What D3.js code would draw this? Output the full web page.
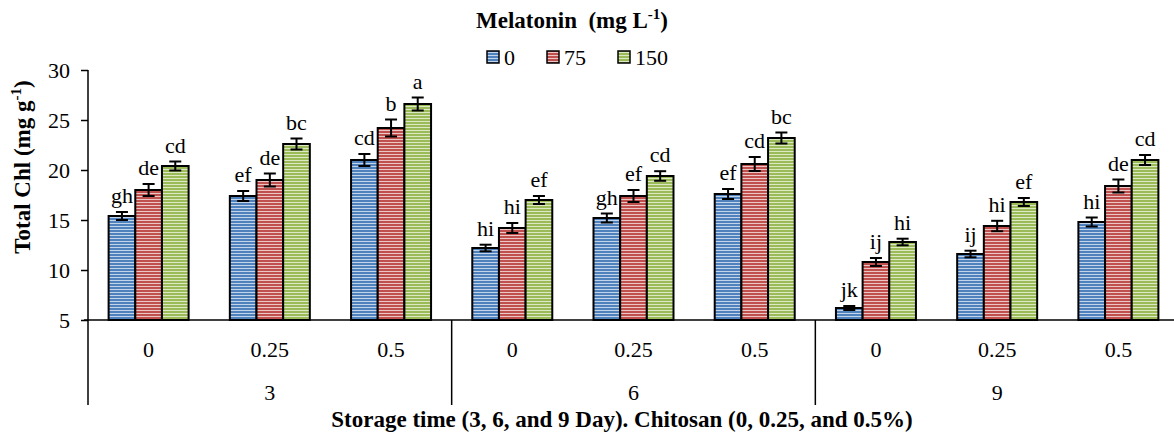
<!DOCTYPE html>
<html>
<head>
<meta charset="utf-8">
<script src="https://cdn.jsdelivr.net/npm/d3@7"></script>
<style>
  body { margin: 0; background: #fff; }
  svg text { font-family: "Liberation Serif", "DejaVu Serif", serif; fill: #000; }
</style>
</head>
<body>
<svg id="chart" width="1174" height="439"></svg>
<script>
// datos
const dias = ["3", "6", "9"];
const quitosano = ["0", "0.25", "0.5"];
const series = ["0", "75", "150"];

const valores0   = [15.4, 17.4, 21.0, 12.2, 15.2, 17.6, 6.2, 11.6, 14.8];
const valores75  = [18.0, 19.0, 24.2, 14.2, 17.4, 20.6, 10.8, 14.4, 18.4];
const valores150 = [20.4, 22.6, 26.6, 17.0, 19.4, 23.2, 12.8, 16.8, 21.0];

const error0   = [0.4, 0.5, 0.6, 0.33, 0.45, 0.5, 0.2, 0.33, 0.45];
const error75  = [0.6, 0.65, 0.85, 0.5, 0.6, 0.7, 0.4, 0.52, 0.65];
const error150 = [0.45, 0.55, 0.65, 0.4, 0.48, 0.55, 0.33, 0.4, 0.5];

const letras0   = ["gh", "ef", "cd", "hi", "gh", "ef", "jk", "ij", "hi"];
const letras75  = ["de", "de", "b", "hi", "ef", "cd", "ij", "hi", "de"];
const letras150 = ["cd", "bc", "a", "ef", "cd", "bc", "hi", "ef", "cd"];

const yTicks = [5, 10, 15, 20, 25, 30];

const colores = [
  { base: "#4f81bd", claro: "#c2d4ea" },
  { base: "#c0504d", claro: "#ecc6c5" },
  { base: "#9bbb59", claro: "#dde9c5" }
];

const valores = [valores0, valores75, valores150];
const errores = [error0, error75, error150];
const letras = [letras0, letras75, letras150];

const grupos = [];
dias.forEach(d => quitosano.forEach(q => grupos.push(d + "|" + q)));

const svg = d3.select("#chart");

// patrones de rayas horizontales
const defs = svg.append("defs");
colores.forEach((c, i) => {
  const p = defs.append("pattern")
    .attr("id", "rayas" + i)
    .attr("patternUnits", "userSpaceOnUse")
    .attr("width", 6).attr("height", 3);
  p.append("rect").attr("width", 6).attr("height", 3).attr("fill", c.base);
  p.append("rect").attr("y", 1).attr("width", 6).attr("height", 1).attr("fill", c.claro);
});

const izq = 88, der = 1179, arriba = 70, base = 320;

const x = d3.scaleBand().domain(grupos).range([izq, der]).padding(0);
const bw = x.bandwidth();
const xs = d3.scaleBand().domain(series).range([(bw - 80) / 2, (bw + 80) / 2]).padding(0);
const y = d3.scaleLinear().domain([5, 30]).range([base, arriba]);

// eje y
const ejeY = svg.append("g")
  .attr("transform", `translate(${izq},0)`)
  .call(d3.axisLeft(y).tickValues(yTicks).tickSize(7).tickPadding(11));
ejeY.select(".domain").remove();
ejeY.selectAll(".tick line").attr("stroke", "#000").attr("stroke-width", 1.5);
ejeY.selectAll(".tick text").attr("font-size", 22);

svg.append("line")
  .attr("x1", izq).attr("x2", izq).attr("y1", arriba).attr("y2", 405)
  .attr("stroke", "#000").attr("stroke-width", 1.5);

svg.append("line")
  .attr("x1", izq - 4).attr("x2", 1174).attr("y1", base).attr("y2", base)
  .attr("stroke", "#000").attr("stroke-width", 1.5);

// barras
grupos.forEach((g, gi) => {
  const gx = x(g);
  series.forEach((s, si) => {
    const v = valores[si][gi];
    const e = errores[si][gi];
    const bx = gx + xs(s);
    svg.append("rect")
      .attr("x", bx).attr("y", y(v))
      .attr("width", xs.bandwidth()).attr("height", base - y(v))
      .attr("fill", `url(#rayas${si})`)
      .attr("stroke", "#000").attr("stroke-width", 2);

    const cx = bx + xs.bandwidth() / 2;
    svg.append("line")
      .attr("x1", cx).attr("x2", cx).attr("y1", y(v + e)).attr("y2", y(v - e))
      .attr("stroke", "#000").attr("stroke-width", 2);
    [v + e, v - e].forEach(t => {
      svg.append("line")
        .attr("x1", cx - 6).attr("x2", cx + 6).attr("y1", y(t)).attr("y2", y(t))
        .attr("stroke", "#000").attr("stroke-width", 2);
    });
    svg.append("text")
      .attr("x", cx).attr("y", y(v + e) - 9)
      .attr("text-anchor", "middle")
      .attr("font-size", 22)
      .text(letras[si][gi]);
  });

  const q = g.split("|")[1];
  svg.append("text")
    .attr("x", gx + bw / 2).attr("y", 357)
    .attr("text-anchor", "middle").attr("font-size", 22)
    .text(q);
});

// etiquetas de dias y separadores
dias.forEach((d, di) => {
  const x0 = x(d + "|" + quitosano[0]);
  const x1 = x(d + "|" + quitosano[2]) + bw;
  svg.append("text")
    .attr("x", (x0 + x1) / 2).attr("y", 400)
    .attr("text-anchor", "middle").attr("font-size", 22)
    .text(d);
  if (di > 0) {
    svg.append("line")
      .attr("x1", x0).attr("x2", x0).attr("y1", base).attr("y2", 405)
      .attr("stroke", "#000").attr("stroke-width", 1.5);
  }
});

// titulos
svg.append("text")
  .attr("x", 622).attr("y", 427)
  .attr("text-anchor", "middle").attr("font-size", 23).attr("font-weight", "bold")
  .text("Storage time (3, 6, and 9 Day). Chitosan (0, 0.25, and 0.5%)");

const ty = svg.append("text")
  .attr("transform", "translate(30,167) rotate(-90)")
  .attr("text-anchor", "middle").attr("font-size", 23).attr("font-weight", "bold");
ty.append("tspan").text("Total Chl (mg g");
ty.append("tspan").attr("font-size", 15).attr("dy", -9).text("-1");
ty.append("tspan").attr("dy", 9).text(")");

const tl = svg.append("text")
  .attr("x", 572).attr("y", 28)
  .attr("text-anchor", "middle").attr("font-size", 23).attr("font-weight", "bold")
  .style("white-space", "pre");
tl.append("tspan").text("Melatonin  (mg L");
tl.append("tspan").attr("font-size", 15).attr("dy", -9).text("-1");
tl.append("tspan").attr("dy", 9).text(")");

// leyenda
const leyX = [487, 547, 618];
series.forEach((s, si) => {
  svg.append("rect")
    .attr("x", leyX[si]).attr("y", 51).attr("width", 12).attr("height", 12)
    .attr("fill", `url(#rayas${si})`).attr("stroke", "#000").attr("stroke-width", 1.5);
  svg.append("text")
    .attr("x", leyX[si] + 17).attr("y", 65)
    .attr("font-size", 22)
    .text(s);
});
</script>
</body>
</html>
